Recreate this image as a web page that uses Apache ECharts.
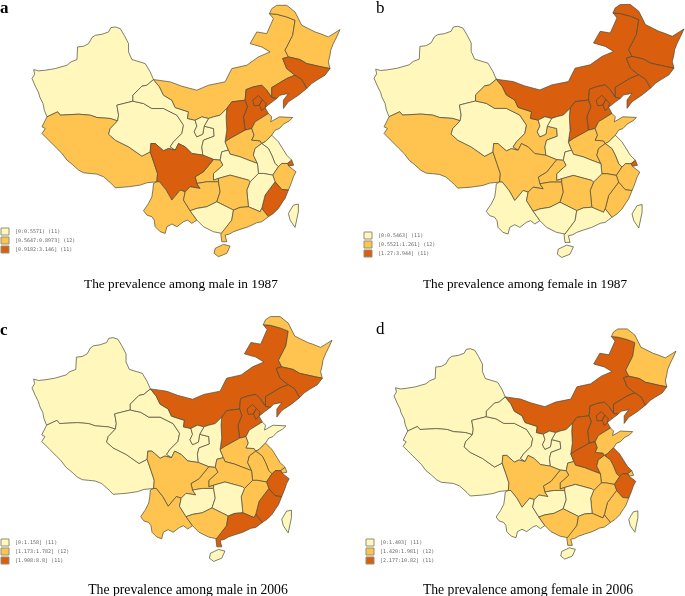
<!DOCTYPE html>
<html>
<head>
<meta charset="utf-8">
<title>Prevalence maps</title>
<script src="https://cdn.jsdelivr.net/npm/echarts@6/dist/echarts.min.js"></script>
<style>
  html, body { margin: 0; padding: 0; background: #fff; }
  #chart { width: 685px; height: 596px; }
</style>
</head>
<body>
<div id="chart"></div>
<script>
// provinces, in the same order as the class lists below
var provinces = ['Xinjiang', 'Tibet', 'Qinghai', 'Gansu', 'InnerMongolia', 'Heilongjiang', 'Jilin', 'Liaoning',
  'Hebei', 'Beijing', 'Tianjin', 'Shanxi', 'Shaanxi', 'Ningxia', 'Henan', 'Shandong', 'Jiangsu', 'Anhui',
  'Shanghai', 'Zhejiang', 'Fujian', 'Jiangxi', 'Hubei', 'Chongqing', 'Sichuan', 'Yunnan', 'Guizhou', 'Hunan',
  'Guangxi', 'Guangdong', 'Hainan', 'Taiwan'];

// 0 = lowest class, 1 = middle, 2 = highest
var maleClass1987 = [0, 1, 0, 0, 1, 1, 2, 2, 2, 2, 2, 2, 0, 0, 1, 1, 0, 0, 2, 1, 2, 0, 0, 1, 2, 1, 1, 1, 0, 1, 1, 0];
var femaleClass1987 = [0, 1, 0, 1, 2, 2, 2, 2, 2, 2, 2, 2, 0, 0, 1, 1, 0, 1, 2, 1, 1, 1, 0, 1, 1, 0, 1, 1, 0, 0, 0, 0];
var maleClass2006 = [0, 0, 0, 0, 2, 1, 2, 2, 2, 2, 2, 2, 0, 0, 1, 0, 1, 1, 1, 2, 2, 1, 1, 1, 1, 1, 0, 0, 1, 2, 0, 0];
var femaleClass2006 = [0, 0, 0, 0, 2, 1, 2, 2, 2, 2, 2, 2, 0, 0, 2, 1, 2, 1, 1, 2, 1, 1, 1, 1, 1, 0, 0, 0, 1, 1, 0, 0];

var classLabels1 = ['[0:0.5571) (11)', '[0.5647:0.8973] (12)', '[0.9182:3.146] (11)'];
var classLabels2 = ['[0:0.5463] (11)', '[0.5521:1.261] (12)', '[1.27:3.944] (11)'];
var classLabels3 = ['[0:1.158] (11)', '[1.173:1.782] (12)', '[1.908:8.8] (11)'];
var classLabels4 = ['[0:1.403] (11)', '[1.420:1.981] (12)', '[2.177:10.82] (11)'];

var panelLetters = ['a', 'b', 'c', 'd'];
var panelTitles = ['The prevalence among male in 1987', 'The prevalence among female in 1987',
  'The prevalence among male in 2006', 'The prevalence among female in 2006'];

var classColors = ['#FFF7BC', '#FEC44F', '#D95F0E'];

// simplified province outlines, base map only
var outlines = {
  Xinjiang: [[345,80],[360,85],[372,105],[385,130],[385,155],[395,178],[435,190],[450,215],[460,238],[440,255],[425,258],[398,285],[398,303],[350,315],[355,345],[352,362],[330,355],[290,352],[270,345],[235,342],[180,345],[172,335],[140,350],[132,330],[128,310],[118,290],[115,278],[105,258],[95,235],[103,222],[100,208],[115,212],[135,210],[165,205],[200,195],[212,185],[230,178],[232,140],[250,138],[265,130],[275,112],[285,105],[305,102],[325,95],[332,82]],
  Tibet: [[140,350],[172,335],[180,345],[235,342],[270,345],[290,352],[330,355],[352,362],[330,385],[325,402],[345,420],[385,440],[425,468],[450,455],[462,490],[472,520],[470,545],[440,548],[420,555],[385,560],[345,563],[335,552],[310,530],[290,522],[270,520],[250,518],[235,510],[215,492],[200,480],[185,460],[170,445],[150,425],[125,400],[135,385],[125,380]],
  Qinghai: [[350,315],[398,303],[430,310],[455,325],[490,325],[530,345],[550,375],[545,400],[520,425],[510,440],[525,450],[505,445],[490,452],[465,430],[452,430],[450,455],[425,468],[385,440],[345,420],[325,402],[330,385],[352,362],[355,345]],
  Gansu: [[460,238],[478,260],[490,285],[515,300],[525,322],[565,335],[562,355],[585,360],[590,378],[582,395],[590,410],[608,402],[612,378],[640,385],[642,408],[610,420],[605,440],[608,465],[575,460],[555,440],[535,430],[525,450],[510,440],[520,425],[545,400],[550,375],[530,345],[490,325],[455,325],[430,310],[398,303],[398,285],[425,258],[440,255]],
  InnerMongolia: [[460,238],[510,245],[545,258],[590,270],[625,255],[675,245],[695,205],[740,195],[775,170],[810,155],[785,140],[750,130],[770,95],[800,100],[820,55],[808,40],[830,42],[860,50],[885,60],[878,105],[855,150],[865,170],[848,175],[860,205],[885,225],[860,235],[815,262],[815,292],[800,270],[785,255],[760,260],[738,268],[735,300],[695,305],[680,325],[660,345],[640,350],[625,355],[605,350],[585,360],[562,355],[565,335],[525,322],[515,300],[490,285],[478,260]],
  Heilongjiang: [[808,40],[815,25],[830,15],[860,15],[885,35],[905,75],[925,85],[945,95],[960,100],[985,110],[1020,88],[1010,110],[1000,130],[992,150],[990,165],[985,185],[990,205],[965,200],[920,190],[900,178],[865,170],[855,150],[878,105],[885,60],[860,50],[830,42]],
  Jilin: [[848,175],[865,170],[900,178],[920,190],[965,200],[990,205],[975,225],[950,240],[935,250],[920,265],[905,238],[885,225],[860,205]],
  Liaoning: [[885,225],[905,238],[920,265],[895,285],[865,305],[850,325],[850,300],[865,280],[840,285],[830,295],[815,292],[815,262],[860,235]],
  Hebei: [[738,268],[760,260],[785,255],[800,270],[815,292],[830,295],[810,310],[795,322],[805,340],[765,365],[755,385],[735,390],[730,350],[742,320],[735,300]],
  Beijing: [[758,300],[775,286],[787,298],[778,315],[762,317]],
  Tianjin: [[778,315],[787,298],[798,310],[795,322],[785,332]],
  Shanxi: [[735,300],[742,320],[730,350],[735,390],[690,415],[675,425],[680,390],[678,350],[680,325],[695,305]],
  Shaanxi: [[625,355],[640,350],[660,345],[680,325],[678,350],[680,390],[675,425],[685,450],[665,455],[660,480],[640,478],[608,465],[605,440],[610,420],[642,408],[640,385],[612,378]],
  Ningxia: [[585,360],[605,350],[625,355],[612,378],[608,402],[590,410],[582,395],[590,378]],
  Henan: [[690,415],[735,390],[755,385],[762,405],[755,420],[780,422],[785,430],[765,445],[760,465],[772,490],[740,478],[720,470],[690,462],[685,450],[675,425]],
  Shandong: [[755,385],[765,365],[805,340],[815,350],[812,365],[838,350],[878,352],[868,362],[850,372],[838,385],[825,390],[815,405],[795,425],[785,430],[780,422],[755,420],[762,405]],
  Jiangsu: [[785,430],[795,425],[815,405],[835,425],[860,465],[875,480],[862,490],[845,490],[835,500],[825,490],[815,465],[805,445]],
  Anhui: [[785,430],[805,445],[815,465],[825,490],[835,500],[818,525],[790,520],[775,520],[772,490],[760,465],[765,445]],
  Shanghai: [[862,490],[875,480],[881,495],[866,498]],
  Zhejiang: [[835,500],[845,490],[862,490],[866,498],[888,515],[880,530],[875,545],[870,558],[865,570],[845,568],[825,545],[818,525]],
  Fujian: [[825,545],[845,568],[865,570],[855,595],[848,605],[835,625],[820,640],[805,650],[785,625],[795,585]],
  Jiangxi: [[775,520],[790,520],[818,525],[825,545],[795,585],[785,625],[780,635],[745,620],[740,570],[750,545]],
  Hubei: [[660,480],[665,455],[685,450],[690,462],[720,470],[740,478],[772,490],[775,520],[750,545],[745,540],[690,525],[655,535],[640,540],[640,520],[668,495]],
  Chongqing: [[640,478],[660,480],[668,495],[640,520],[640,540],[655,535],[655,545],[620,545],[590,550],[585,530],[610,515]],
  Sichuan: [[452,430],[465,430],[490,452],[505,445],[525,450],[535,430],[555,440],[575,460],[608,465],[640,478],[610,515],[585,530],[590,550],[600,565],[570,560],[555,575],[540,570],[515,600],[498,570],[478,545],[470,545],[472,520],[462,490],[450,455]],
  Yunnan: [[470,545],[478,545],[498,570],[515,600],[540,570],[555,575],[550,600],[570,632],[590,660],[575,670],[562,660],[550,665],[530,680],[515,672],[500,680],[495,700],[480,695],[465,680],[462,660],[455,650],[440,645],[430,632],[445,610],[455,590],[458,570],[460,550]],
  Guizhou: [[555,575],[570,560],[600,565],[590,550],[620,545],[655,545],[660,575],[650,605],[620,620],[590,625],[570,632],[550,600]],
  Hunan: [[655,535],[690,525],[745,540],[750,545],[740,570],[745,620],[720,622],[700,630],[660,610],[650,605],[660,575],[655,545]],
  Guangxi: [[570,632],[590,625],[620,620],[650,605],[660,610],[700,630],[695,660],[665,700],[640,695],[610,680],[590,660]],
  Guangdong: [[700,630],[720,622],[745,620],[780,635],[785,625],[805,650],[785,665],[770,668],[745,680],[720,688],[700,695],[688,702],[675,705],[680,725],[665,725],[662,702],[665,700],[695,660]],
  Hainan: [[645,745],[670,733],[690,738],[680,760],[655,770],[642,760]],
  Taiwan: [[880,615],[895,612],[895,635],[885,682],[870,660],[865,640]]
};

var mapFeatures = provinces.map(function (name) {
  var ring = outlines[name].map(function (p) { return [p[0], -p[1]]; });
  ring.push(ring[0]);
  return { type: 'Feature', properties: { name: name }, geometry: { type: 'Polygon', coordinates: [ring] } };
});
// one name per panel, map series sharing a name get merged into one
var mapNames = ['sketchA', 'sketchB', 'sketchC', 'sketchD'];
mapNames.forEach(function (mapName) {
  echarts.registerMap(mapName, { type: 'FeatureCollection', features: mapFeatures });
});

function mapSeries(mapName, classes, center, size) {
  return {
    type: 'map',
    map: mapName,
    aspectScale: 1,
    layoutCenter: center,
    layoutSize: size,
    silent: true,
    selectedMode: false,
    label: { show: false },
    itemStyle: { borderColor: '#4a4a3a', borderWidth: 0.7, areaColor: '#fff' },
    data: provinces.map(function (name, i) { return { name: name, value: classes[i] }; })
  };
}

function classLegend(seriesIndex, labels, left, top) {
  return {
    type: 'piecewise',
    seriesIndex: seriesIndex,
    left: left,
    top: top,
    orient: 'vertical',
    inverse: true,
    align: 'left',
    selectedMode: false,
    itemWidth: 8,
    itemHeight: 7,
    itemGap: 2,
    itemSymbol: 'rect',
    textGap: 6,
    padding: 0,
    textStyle: { fontSize: 5, color: '#666', fontFamily: 'DejaVu Sans Mono' },
    pieces: labels.map(function (text, i) { return { value: i, label: text, color: classColors[i] }; })
  };
}

// visualMap swatches take no border, so the frames go on top
function swatchFrames(left, top) {
  return [0, 1, 2].map(function (row) {
    return {
      type: 'rect',
      z: 100,
      silent: true,
      shape: { x: left, y: top + row * 9, width: 8, height: 7 },
      style: { fill: null, stroke: '#8f8f7a', lineWidth: 1 }
    };
  });
}

function caption(text, x, y, size) {
  return {
    text: text, left: x, top: y, textAlign: 'center', padding: 0,
    textStyle: { fontFamily: 'Liberation Serif', fontSize: size, fontWeight: 'normal', color: '#000' }
  };
}

function letter(text, x, y, bold) {
  return {
    text: text, left: x, top: y, padding: 0,
    textStyle: { fontFamily: 'Liberation Serif', fontSize: 17, fontWeight: bold ? 'bold' : 'normal', color: '#000' }
  };
}

var chart = echarts.init(document.getElementById('chart'));
chart.setOption({
  backgroundColor: '#fff',
  animation: false,
  title: [
    letter(panelLetters[0], 0, 0, true),
    letter(panelLetters[1], 376, 0, false),
    letter(panelLetters[2], 0, 322, true),
    letter(panelLetters[3], 376, 321, false),
    caption(panelTitles[0], 181, 278, 13.3),
    caption(panelTitles[1], 525, 278, 13.3),
    caption(panelTitles[2], 188, 583, 13.7),
    caption(panelTitles[3], 528, 583, 13.7)
  ],
  visualMap: [
    classLegend(0, classLabels1, 1, 228),
    classLegend(1, classLabels2, 364, 232),
    classLegend(2, classLabels3, 1, 539),
    classLegend(3, classLabels4, 366, 539)
  ],
  graphic: swatchFrames(1, 228).concat(swatchFrames(364, 232), swatchFrames(1, 539), swatchFrames(366, 539)),
  series: [
    mapSeries(mapNames[0], maleClass1987, [186, 131], 308),
    mapSeries(mapNames[1], femaleClass1987, [529, 131], 310),
    mapSeries(mapNames[2], maleClass2006, [182, 439], 300),
    mapSeries(mapNames[3], femaleClass2006, [535, 444], 282)
  ]
});
</script>
</body>
</html>
